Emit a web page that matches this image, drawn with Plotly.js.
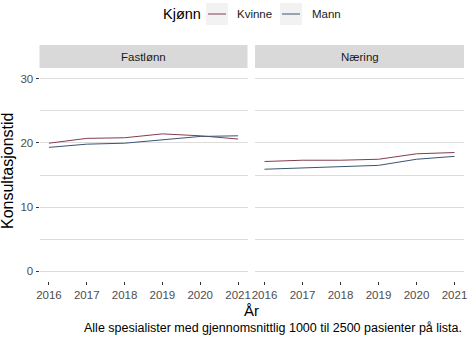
<!DOCTYPE html>
<html>
<head>
<meta charset="utf-8">
<script src="https://cdn.plot.ly/plotly-3.0.1.min.js"></script>
<style>html,body{margin:0;padding:0;background:#fff;}#chart{width:468px;height:338px;}</style>
</head>
<body>
<div id="chart"></div>
<script>
var years = [2016, 2017, 2018, 2019, 2020, 2021];
var panels = ["Fastlønn", "Næring"];
var seriesNames = ["Kvinne", "Mann"];
var fastlonnKvinne = [19.95, 20.7, 20.8, 21.4, 21.1, 20.6];
var fastlonnMann = [19.3, 19.8, 19.95, 20.5, 21.0, 21.1];
var naeringKvinne = [17.1, 17.3, 17.3, 17.45, 18.3, 18.5];
var naeringMann = [15.9, 16.1, 16.4, 16.5, 17.45, 17.9];
var yTicks = [0, 10, 20, 30];
var colors = {Kvinne: "#843C50", Mann: "#3A5473"};

var W = 468, H = 338, L = 39, R = 4, T = 69, B = 57;
var pw = W - L - R, ph = H - T - B;
function px(x){ return (x - L) / pw; }
function py(y){ return (H - B - y) / ph; }

var traces = [
  {x: years, y: fastlonnKvinne, xaxis: "x", yaxis: "y", name: seriesNames[0], color: colors.Kvinne},
  {x: years, y: fastlonnMann, xaxis: "x", yaxis: "y", name: seriesNames[1], color: colors.Mann},
  {x: years, y: naeringKvinne, xaxis: "x2", yaxis: "y2", name: seriesNames[0], color: colors.Kvinne},
  {x: years, y: naeringMann, xaxis: "x2", yaxis: "y2", name: seriesNames[1], color: colors.Mann}
].map(function(t){
  return {x: t.x, y: t.y, xaxis: t.xaxis, yaxis: t.yaxis, name: t.name, type: "scatter", mode: "lines",
    line: {color: t.color, width: 1}, showlegend: false, hoverinfo: "skip"};
});

var tickFont = {family: "Liberation Sans, Arial, sans-serif", size: 11.5, color: "#4D4D4D"};
var xCommon = {range: [2015.75, 2021.25], tickvals: years, ticktext: years.map(String), showgrid: false,
  zeroline: false, showline: false, ticks: "outside", ticklen: 3, tickcolor: "#333333", tickwidth: 1,
  tickfont: tickFont, fixedrange: true};
var yCommon = {range: [-1.5, 31.5], tickvals: yTicks, showgrid: true, gridcolor: "#DCDCDC", gridwidth: 1,
  zeroline: false, showline: false, fixedrange: true,
  minor: {tickvals: [5, 15, 25], showgrid: true, gridcolor: "#DCDCDC", gridwidth: 1, ticklen: 0}};

var d1 = [px(39.5), px(247.5)], d2 = [px(255), px(464)];

var stripTop = py(45), stripBot = py(68);
var shapes = [
  {type: "rect", xref: "paper", yref: "paper", x0: d1[0], x1: d1[1], y0: stripBot, y1: stripTop, fillcolor: "#D9D9D9", line: {width: 0}},
  {type: "rect", xref: "paper", yref: "paper", x0: d2[0], x1: d2[1], y0: stripBot, y1: stripTop, fillcolor: "#D9D9D9", line: {width: 0}},
  {type: "rect", xref: "paper", yref: "paper", x0: px(206), x1: px(228), y0: py(25), y1: py(3), fillcolor: "#F2F2F2", line: {width: 0}},
  {type: "rect", xref: "paper", yref: "paper", x0: px(280), x1: px(302), y0: py(25), y1: py(3), fillcolor: "#F2F2F2", line: {width: 0}},
  {type: "line", xref: "paper", yref: "paper", x0: px(208), x1: px(226), y0: py(14), y1: py(14), line: {color: colors.Kvinne, width: 1}},
  {type: "line", xref: "paper", yref: "paper", x0: px(282), x1: px(300), y0: py(14), y1: py(14), line: {color: colors.Mann, width: 1}}
];

var txt = {family: "Liberation Sans, Arial, sans-serif", size: 11.5, color: "#1A1A1A"};
var annotations = [
  {text: panels[0], xref: "paper", yref: "paper", x: (d1[0] + d1[1]) / 2, y: py(56.5), xanchor: "center", yanchor: "middle", showarrow: false, font: txt},
  {text: panels[1], xref: "paper", yref: "paper", x: (d2[0] + d2[1]) / 2, y: py(56.5), xanchor: "center", yanchor: "middle", showarrow: false, font: txt},
  {text: "Kjønn", xref: "paper", yref: "paper", x: px(161), y: py(14), xanchor: "left", yanchor: "middle", showarrow: false,
    font: {family: "Liberation Sans, Arial, sans-serif", size: 14.5, color: "#000"}},
  {text: seriesNames[0], xref: "paper", yref: "paper", x: px(235), y: py(14), xanchor: "left", yanchor: "middle", showarrow: false, font: txt},
  {text: seriesNames[1], xref: "paper", yref: "paper", x: px(310), y: py(14), xanchor: "left", yanchor: "middle", showarrow: false, font: txt},
  {text: "År", xref: "paper", yref: "paper", x: px(251), y: py(310), xanchor: "center", yanchor: "middle", showarrow: false,
    font: {family: "Liberation Sans, Arial, sans-serif", size: 15, color: "#000"}},
  {text: "Konsultasjonstid", xref: "paper", yref: "paper", x: px(7), y: py(171), xanchor: "center", yanchor: "middle", textangle: -90, showarrow: false,
    font: {family: "Liberation Sans, Arial, sans-serif", size: 16, color: "#000"}},
  {text: "Alle spesialister med gjennomsnittlig 1000 til 2500 pasienter på lista.", xref: "paper", yref: "paper", x: px(464), y: py(328), xanchor: "right", yanchor: "middle", showarrow: false,
    font: {family: "Liberation Sans, Arial, sans-serif", size: 12.5, color: "#000"}}
];

var layout = {
  width: W, height: H,
  margin: {l: L, r: R, t: T, b: B, pad: 0},
  paper_bgcolor: "#FFFFFF", plot_bgcolor: "#FFFFFF",
  showlegend: false,
  xaxis: Object.assign({}, xCommon, {domain: d1, anchor: "y"}),
  xaxis2: Object.assign({}, xCommon, {domain: d2, anchor: "y2"}),
  yaxis: Object.assign({}, yCommon, {domain: [0, 1], anchor: "x", ticks: "outside", ticklen: 3, tickcolor: "#333333", tickfont: tickFont}),
  yaxis2: Object.assign({}, yCommon, {domain: [0, 1], anchor: "x2", showticklabels: false, ticks: ""}),
  shapes: shapes,
  annotations: annotations
};

Plotly.newPlot("chart", traces, layout, {staticPlot: true, displayModeBar: false});
</script>
</body>
</html>
